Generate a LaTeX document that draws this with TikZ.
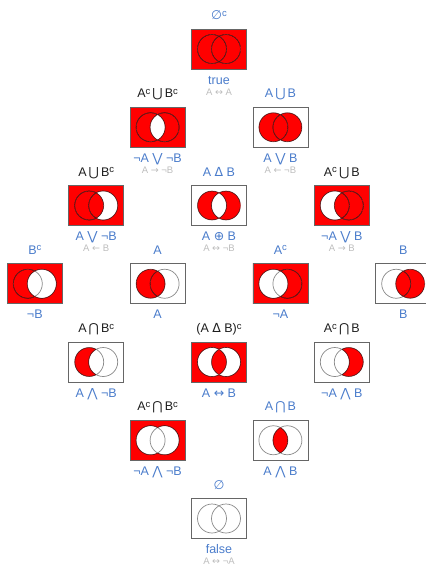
\documentclass[tikz,border=0pt]{standalone}
\usepackage{fontspec}
\setmainfont{Liberation Sans}
\newfontfamily\symfont{DejaVu Sans}
\usetikzlibrary{positioning}

\definecolor{vred}{HTML}{FF0000}
\definecolor{vblue}{HTML}{4A7CCB}
\definecolor{vgray}{HTML}{8A8A8A}
\definecolor{vframe}{HTML}{666666}
\definecolor{vfaint}{HTML}{BDBDBD}
\definecolor{vdark}{HTML}{1E1E1E}

\newcommand{\sy}[1]{{\symfont #1}}
\newcommand{\cpl}{\raisebox{0.5ex}{\fontsize{9.5}{10}\selectfont c}}

% red atom: fill and black outlines inside the current clip
\newcommand{\redpart}{%
  \fill[vred, nonzero rule] (-30,-22) rectangle (30,22);
  \draw[vdark, line width=0.7pt] (-7,0) circle (14.5) (7,0) circle (14.5);}

% #1 cell, #2 outside, #3 A only, #4 A and B, #5 B only
\newcommand{\venn}[5]{%
  \begin{scope}[shift={(#1.center)}]
    \clip (-27.5,-20) rectangle (27.5,20);
    \fill[white] (-27.5,-20) rectangle (27.5,20);
    \draw[vgray, line width=0.7pt] (-7,0) circle (14.5) (7,0) circle (14.5);
    \ifnum#2=1 \begin{scope}[even odd rule]
      \clip (-30,-22) rectangle (30,22) (-7,0) circle (14.5);
      \clip (-30,-22) rectangle (30,22) (7,0) circle (14.5);
      \redpart
    \end{scope}\fi
    \ifnum#3=1 \begin{scope}[even odd rule]
      \clip (-7,0) circle (14.5);
      \clip (-30,-22) rectangle (30,22) (7,0) circle (14.5);
      \redpart
    \end{scope}\fi
    \ifnum#4=1 \begin{scope}
      \clip (-7,0) circle (14.5);
      \clip (7,0) circle (14.5);
      \redpart
    \end{scope}\fi
    \ifnum#5=1 \begin{scope}[even odd rule]
      \clip (7,0) circle (14.5);
      \clip (-30,-22) rectangle (30,22) (-7,0) circle (14.5);
      \redpart
    \end{scope}\fi
  \end{scope}
  \draw[vframe, line width=0.8pt] (#1.south west) rectangle (#1.north east);}

\tikzset{
  cell/.style={minimum width=55pt, minimum height=40pt, inner sep=0pt, outer sep=0pt},
  lbl/.style={inner sep=0pt, font=\fontsize{12.5}{14}\selectfont, text=vblue},
  lblk/.style={lbl, text=vdark},
  sub/.style={inner sep=0pt, font=\fontsize{9.5}{11}\selectfont, text=vfaint}
}

\begin{document}
\begin{tikzpicture}[x=1pt, y=-1pt]
  \useasboundingbox (0,0) rectangle (426,566);

  % the cells
  \node[cell] (ctrue)  at (219,49) {};
  \node[cell] (cnand)  at (157.6,127.25) {};
  \node[cell] (cor)    at (280.4,127.25) {};
  \node[cell] (cconv)  at (96.2,205.5) {};
  \node[cell] (cxor)   at (219,205.5) {};
  \node[cell] (cimp)   at (341.8,205.5) {};
  \node[cell] (cnotb)  at (34.8,283.75) {};
  \node[cell] (ca)     at (157.6,283.75) {};
  \node[cell] (cnota)  at (280.4,283.75) {};
  \node[cell] (cb)     at (403.2,283.75) {};
  \node[cell] (canb)   at (96.2,362) {};
  \node[cell] (cxnor)  at (219,362) {};
  \node[cell] (cnab)   at (341.8,362) {};
  \node[cell] (cnor)   at (157.6,440.25) {};
  \node[cell] (cand)   at (280.4,440.25) {};
  \node[cell] (cfalse) at (219,518.5) {};

  \venn{ctrue}{1}{1}{1}{1}
  \venn{cnand}{1}{1}{0}{1}
  \venn{cor}{0}{1}{1}{1}
  \venn{cconv}{1}{1}{1}{0}
  \venn{cxor}{0}{1}{0}{1}
  \venn{cimp}{1}{0}{1}{1}
  \venn{cnotb}{1}{1}{0}{0}
  \venn{ca}{0}{1}{1}{0}
  \venn{cnota}{1}{0}{0}{1}
  \venn{cb}{0}{0}{1}{1}
  \venn{canb}{0}{1}{0}{0}
  \venn{cxnor}{1}{0}{1}{0}
  \venn{cnab}{0}{0}{0}{1}
  \venn{cnor}{1}{0}{0}{0}
  \venn{cand}{0}{0}{1}{0}
  \venn{cfalse}{0}{0}{0}{0}

  % set names above
  \node[lbl, above=9.5pt of ctrue, anchor=base] (ctrue-t) {\sy{∅}\cpl};
  \node[lblk, above=9.5pt of cnand, anchor=base] (cnand-t) {A\cpl\,\sy{⋃}\,B\cpl};
  \node[lbl, above=9.5pt of cor, anchor=base] (cor-t) {A\,\sy{⋃}\,B};
  \node[lblk, above=9.5pt of cconv, anchor=base] (cconv-t) {A\,\sy{⋃}\,B\cpl};
  \node[lbl, above=9.5pt of cxor, anchor=base] (cxor-t) {A \sy{Δ} B};
  \node[lblk, above=9.5pt of cimp, anchor=base] (cimp-t) {A\cpl\,\sy{⋃}\,B};
  \node[lbl, above=9.5pt of cnotb, anchor=base] (cnotb-t) {B\cpl};
  \node[lbl, above=9.5pt of ca, anchor=base] (ca-t) {A};
  \node[lbl, above=9.5pt of cnota, anchor=base] (cnota-t) {A\cpl};
  \node[lbl, above=9.5pt of cb, anchor=base] (cb-t) {B};
  \node[lblk, above=9.5pt of canb, anchor=base] (canb-t) {A\,\sy{⋂}\,B\cpl};
  \node[lblk, above=9.5pt of cxnor, anchor=base] (cxnor-t) {(A \sy{Δ} B)\cpl};
  \node[lblk, above=9.5pt of cnab, anchor=base] (cnab-t) {A\cpl\,\sy{⋂}\,B};
  \node[lblk, above=9.5pt of cnor, anchor=base] (cnor-t) {A\cpl\,\sy{⋂}\,B\cpl};
  \node[lbl, above=9.5pt of cand, anchor=base] (cand-t) {A\,\sy{⋂}\,B};
  \node[lbl, above=9.5pt of cfalse, anchor=base] (cfalse-t) {\sy{∅}};

  % logic names below
  \node[lbl, below=15pt of ctrue, anchor=base] (ctrue-b) {true};
  \node[lbl, below=15pt of cnand, anchor=base] (cnand-b) {¬A \sy{⋁} ¬B};
  \node[lbl, below=15pt of cor, anchor=base] (cor-b) {A \sy{⋁} B};
  \node[lbl, below=15pt of cconv, anchor=base] (cconv-b) {A \sy{⋁} ¬B};
  \node[lbl, below=15pt of cxor, anchor=base] (cxor-b) {A \sy{⊕} B};
  \node[lbl, below=15pt of cimp, anchor=base] (cimp-b) {¬A \sy{⋁} B};
  \node[lbl, below=15pt of cnotb, anchor=base] (cnotb-b) {¬B};
  \node[lbl, below=15pt of ca, anchor=base] (ca-b) {A};
  \node[lbl, below=15pt of cnota, anchor=base] (cnota-b) {¬A};
  \node[lbl, below=15pt of cb, anchor=base] (cb-b) {B};
  \node[lbl, below=15pt of canb, anchor=base] (canb-b) {A \sy{⋀} ¬B};
  \node[lbl, below=15pt of cxnor, anchor=base] (cxnor-b) {A \sy{↔} B};
  \node[lbl, below=15pt of cnab, anchor=base] (cnab-b) {¬A \sy{⋀} B};
  \node[lbl, below=15pt of cnor, anchor=base] (cnor-b) {¬A \sy{⋀} ¬B};
  \node[lbl, below=15pt of cand, anchor=base] (cand-b) {A \sy{⋀} B};
  \node[lbl, below=15pt of cfalse, anchor=base] (cfalse-b) {false};

  % faint implication forms
  \node[sub, below=11pt of ctrue-b.base, anchor=base] (ctrue-s) {A \sy{↔} A};
  \node[sub, below=11pt of cnand-b.base, anchor=base] (cnand-s) {A \sy{→} ¬B};
  \node[sub, below=11pt of cor-b.base, anchor=base] (cor-s) {A \sy{←} ¬B};
  \node[sub, below=11pt of cconv-b.base, anchor=base] (cconv-s) {A \sy{←} B};
  \node[sub, below=11pt of cxor-b.base, anchor=base] (cxor-s) {A \sy{↔} ¬B};
  \node[sub, below=11pt of cimp-b.base, anchor=base] (cimp-s) {A \sy{→} B};
  \node[sub, below=11pt of cfalse-b.base, anchor=base] (cfalse-s) {A \sy{↔} ¬A};
\end{tikzpicture}
\end{document}
